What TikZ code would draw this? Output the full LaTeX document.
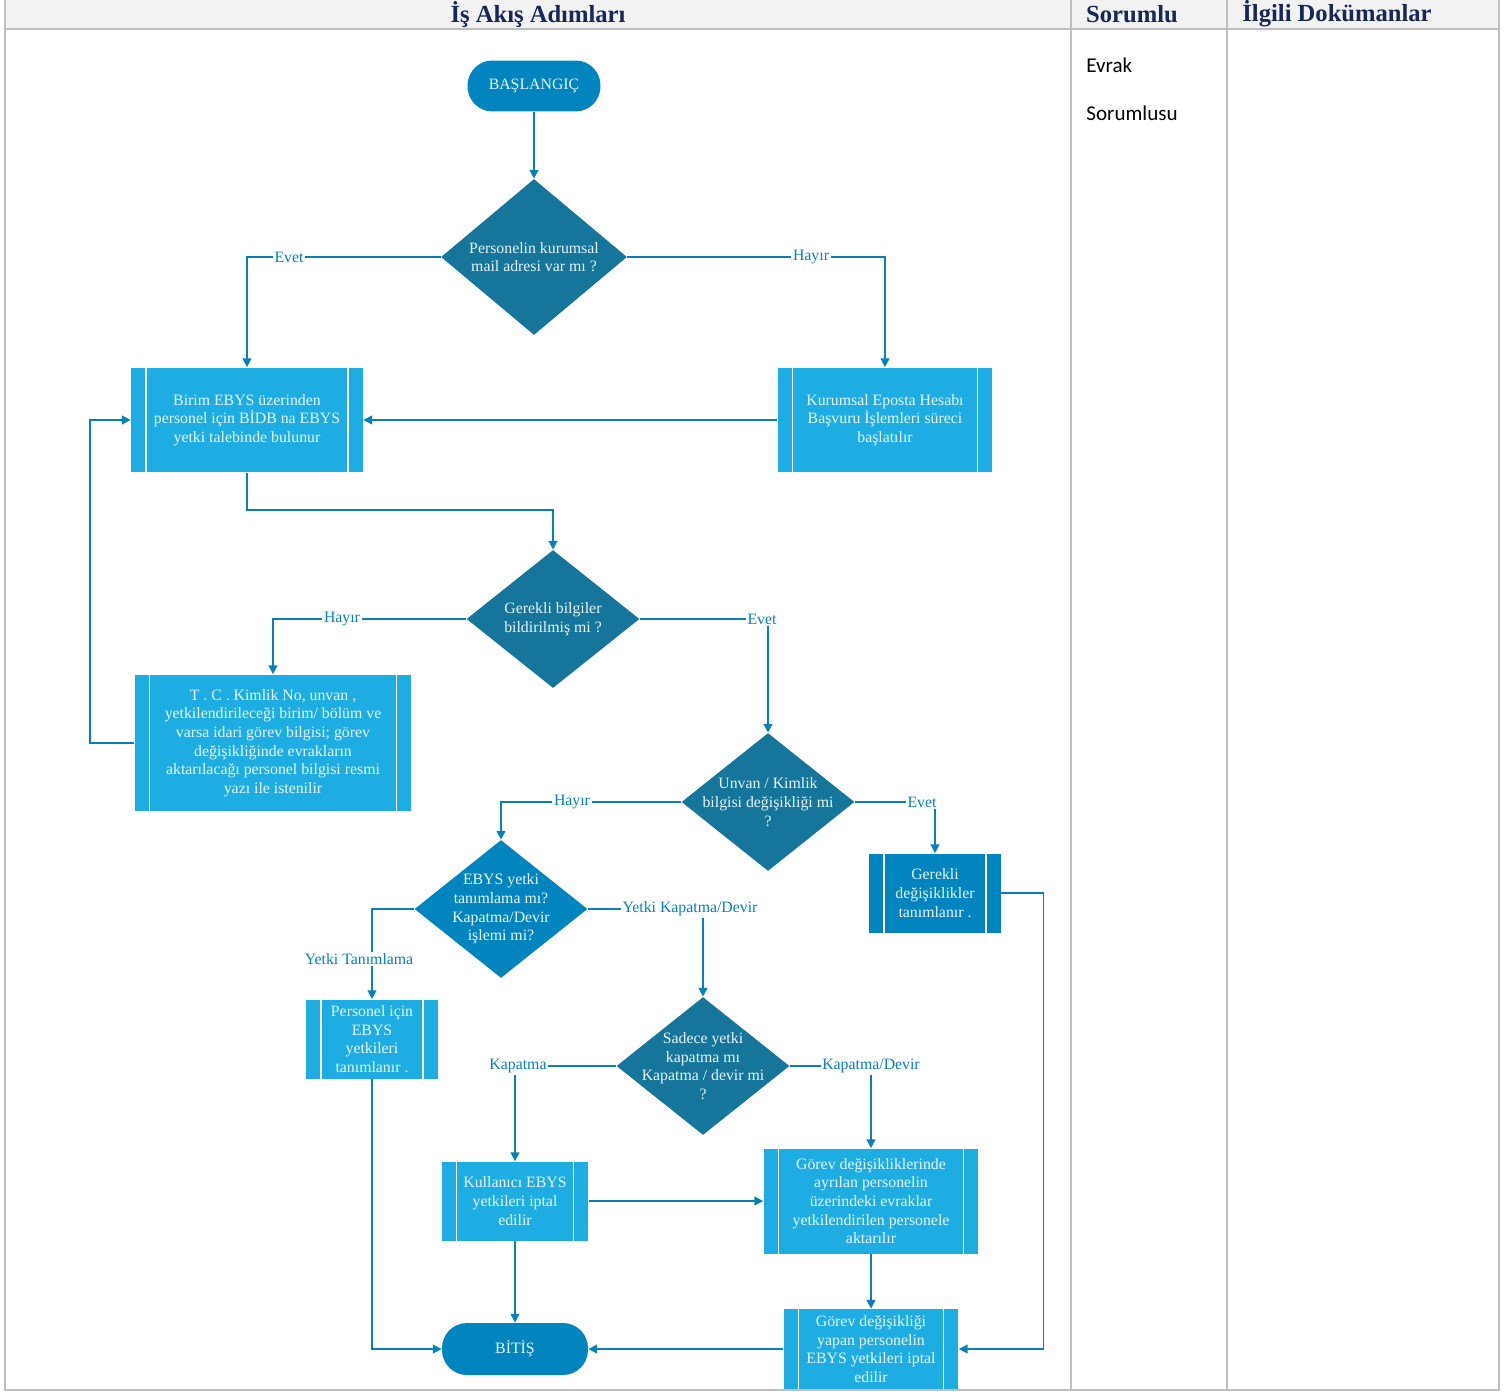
\documentclass[tikz,border=0pt]{standalone}
\usepackage{fontspec}
\setmainfont{Liberation Serif}
\newfontfamily\sorfont{Carlito}
\usetikzlibrary{shapes.geometric,arrows.meta}
\definecolor{dteal}{HTML}{15759B}
\definecolor{mblue}{HTML}{0284BE}
\definecolor{pcyan}{HTML}{1EADE3}
\definecolor{lblue}{HTML}{0A80BA}
\definecolor{ntxt}{HTML}{E8F5FB}
\definecolor{navy}{HTML}{17275A}
\definecolor{hgray}{HTML}{F2F2F2}
\definecolor{fgray}{HTML}{BFBFBF}
\begin{document}
\begin{tikzpicture}[x=0.02cm,y=-0.02cm,
  every node/.style={font=\fontsize{9}{10.6}\selectfont},
  proc/.style={rectangle, fill=pcyan, draw=none, text=ntxt, align=center, inner sep=0pt,
    path picture={
      \draw[white,line width=0.8pt] ([xshift=0.3cm]path picture bounding box.north west) -- ([xshift=0.3cm]path picture bounding box.south west);
      \draw[white,line width=0.8pt] ([xshift=-0.3cm]path picture bounding box.north east) -- ([xshift=-0.3cm]path picture bounding box.south east);}},
  procdark/.style={proc, fill=mblue},
  dia/.style={diamond, fill=dteal, draw=none, inner sep=0pt, aspect=1.2},
  diab/.style={dia, fill=mblue},
  dtext/.style={text=ntxt, align=center, inner sep=0pt},
  term/.style={rectangle, rounded corners=0.5cm, fill=mblue, text=ntxt, align=center, inner sep=0pt},
  arr/.style={draw=lblue, line width=0.9pt, -{Triangle[length=5pt,width=5pt]}},
  lbl/.style={fill=white, text=lblue, inner sep=1pt},
  hdr/.style={font=\fontsize{14}{16}\selectfont\bfseries, text=navy, inner sep=0pt},
  sor/.style={font=\sorfont\fontsize{12}{14}\selectfont, text=black, anchor=west, inner sep=0pt}
]
\useasboundingbox (0,0) rectangle (1507,1392);
% frame and header
\fill[hgray] (5,0) rectangle (1499,29);
\draw[fgray, line width=1.1pt] (5,29) -- (1499,29);
\draw[fgray, line width=1.1pt] (5,0) -- (5,1390) -- (1499,1390) -- (1499,0);
\draw[fgray, line width=1.1pt] (1071,0) -- (1071,1390);
\draw[fgray, line width=1.1pt] (1227,0) -- (1227,1390);
\node[hdr] (h1) at (538,14) {İş Akış Adımları};
\node[hdr] (h2) at (1132,14) {Sorumlu};
\node[hdr, anchor=west] (h3) at (1242,14) {İlgili Dokümanlar};
\node[sor] (s1) at (1086,65) {Evrak};
\node[sor] (s2) at (1086,113) {Sorumlusu};

% nodes
\node[term, minimum width=2.66cm, minimum height=1.02cm] (start) at (534,86) {BAŞLANGIÇ};
\node[dia, minimum width=3.72cm, minimum height=3.12cm] (d1) at (534,257) {};
\node[dtext] (t1) at (d1) {Personelin kurumsal\\mail adresi var mı ?};
\node[proc, minimum width=4.64cm, minimum height=2.1cm] (b1) at (247,420) {Birim EBYS üzerinden\\personel için BİDB na EBYS\\yetki talebinde bulunur};
\node[proc, minimum width=4.3cm, minimum height=2.1cm] (b2) at (885,420) {Kurumsal Eposta Hesabı\\Başvuru İşlemleri süreci\\başlatılır};
\node[dia, minimum width=3.46cm, minimum height=2.76cm] (d2) at (553,619) {};
\node[dtext] (t2) at (d2) {Gerekli bilgiler\\bildirilmiş mi ?};
\node[proc, minimum width=5.54cm, minimum height=2.74cm] (b3) at (273,743) {T . C . Kimlik No, unvan ,\\yetkilendirileceği birim/ bölüm ve\\varsa idari görev bilgisi; görev\\değişikliğinde evrakların\\aktarılacağı personel bilgisi resmi\\yazı ile istenilir};
\node[dia, minimum width=3.46cm, minimum height=2.76cm] (d3) at (768,802) {};
\node[dtext] (t3) at (d3) {Unvan / Kimlik\\bilgisi değişikliği mi\\?};
\node[procdark, minimum width=2.64cm, minimum height=1.58cm] (b4) at (935,893) {Gerekli\\değişiklikler\\tanımlanır .};
\node[diab, minimum width=3.46cm, minimum height=2.76cm] (d4) at (501,909) {};
\node[dtext] (t4) at (d4) {EBYS yetki\\tanımlama mı?\\Kapatma/Devir\\işlemi mi?};
\node[proc, minimum width=2.64cm, minimum height=1.58cm] (b5) at (372,1039) {Personel için\\EBYS\\yetkileri\\tanımlanır .};
\node[dia, minimum width=3.46cm, minimum height=2.76cm] (d5) at (703,1066) {};
\node[dtext] (t5) at (d5) {Sadece yetki\\kapatma mı\\Kapatma / devir mi\\?};
\node[proc, minimum width=2.94cm, minimum height=1.58cm] (b6) at (515,1201) {Kullanıcı EBYS\\yetkileri iptal\\edilir};
\node[proc, minimum width=4.3cm, minimum height=2.1cm] (b7) at (871,1201) {Görev değişikliklerinde\\ayrılan personelin\\üzerindeki evraklar\\yetkilendirilen personele\\aktarılır};
\node[proc, minimum width=3.5cm, minimum height=1.6cm] (b9) at (871,1349) {Görev değişikliği\\yapan personelin\\EBYS yetkileri iptal\\edilir};
\node[term, minimum width=2.92cm, minimum height=1.04cm] (end) at (515,1349) {BİTİŞ};

% connectors
\draw[arr] (start.south) -- (d1.north);
\draw[arr] (d1.west) -| (b1.north);
\node[lbl] (l1) at (289,257) {Evet};
\draw[arr] (d1.east) -| (b2.north);
\node[lbl] (l2) at (811,257) {Hayır};
\draw[arr] (b2.west) -- (b1.east);
\draw[arr] (b1.south) -- ++(0,37) -| (d2.north);
\draw[arr] (d2.west) -| (b3.north);
\node[lbl] (l3) at (342,619) {Hayır};
\draw[arr] (d2.east) -| (d3.north);
\node[lbl] (l4) at (762,619) {Evet};
\draw[arr] (b3.west) -- ++(-44,0) |- (b1.west);
\draw[arr] (d3.west) -| (d4.north);
\node[lbl] (l5) at (572,802) {Hayır};
\draw[arr] (d3.east) -| (b4.north);
\node[lbl] (l6) at (922,802) {Evet};
\draw[arr] (b4.east) -- ++(42,0) |- (b9.east);
\draw[arr] (d4.west) -| (b5.north);
\node[lbl] (l7) at (359,959) {Yetki Tanımlama};
\draw[arr] (d4.east) -| (d5.north);
\node[lbl] (l8) at (690,909) {Yetki Kapatma/Devir};
\draw[arr] (d5.west) -| (b6.north);
\node[lbl] (l9) at (518,1066) {Kapatma};
\draw[arr] (d5.east) -| (b7.north);
\node[lbl] (l10) at (871,1066) {Kapatma/Devir};
\draw[arr] (b5.south) |- (end.west);
\draw[arr] (b6.east) -- (b7.west);
\draw[arr] (b6.south) -- (end.north);
\draw[arr] (b7.south) -- (b9.north);
\draw[arr] (b9.west) -- (end.east);
\end{tikzpicture}
\end{document}
